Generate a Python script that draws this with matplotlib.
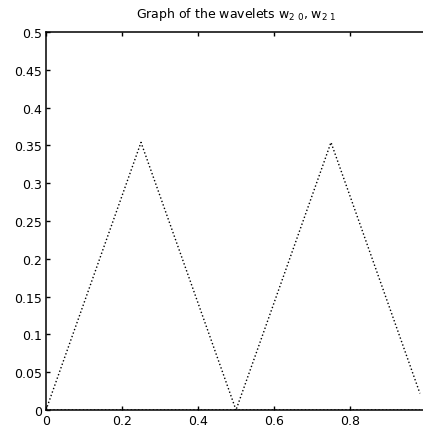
import numpy as np
import matplotlib.pyplot as plt

plt.rcParams['font.family'] = ['DejaVu Sans']
plt.rcParams['mathtext.fontset'] = 'dejavusans'

# vertices of the two hat wavelets
x = [0, 0.25, 0.5, 0.75, 0.984]
w20 = [0, 0.354, 0, 0, 0]
w21 = [0, 0, 0, 0.354, 0.022]

xticks = [0, 0.2, 0.4, 0.6, 0.8]
xlabels = ['0', '0.2', '0.4', '0.6', '0.8']
yticks = [0, 0.05, 0.1, 0.15, 0.2, 0.25, 0.3, 0.35, 0.4, 0.45, 0.5]
ylabels = ['0', '0.05', '0.1', '0.15', '0.2', '0.25', '0.3', '0.35', '0.4', '0.45', '0.5']

fig = plt.figure(figsize=(4.23, 4.35), dpi=100)
ax = fig.add_axes([46/423, 24/435, 380/423, 378/435])

ax.plot(x, w20, color='black', linestyle=':', linewidth=1.0)
ax.plot(x, w21, color='black', linestyle=':', linewidth=1.0)

ax.set_xlim(0, 1)
ax.set_ylim(0, 0.5)
ax.set_xticks(xticks)
ax.set_xticklabels(xlabels)
ax.set_yticks(yticks)
ax.set_yticklabels(ylabels)
ax.tick_params(direction='in', length=3, width=1, top=True, right=False,
               labelsize=9, pad=3)
ax.spines['right'].set_visible(False)
for s in ax.spines.values():
    s.set_linewidth(1.1)

ax.set_title(r'Graph of the wavelets w$_{2\ 0}$, w$_{2\ 1}$', fontsize=9, pad=11)

fig.savefig('out.png', dpi=100)
